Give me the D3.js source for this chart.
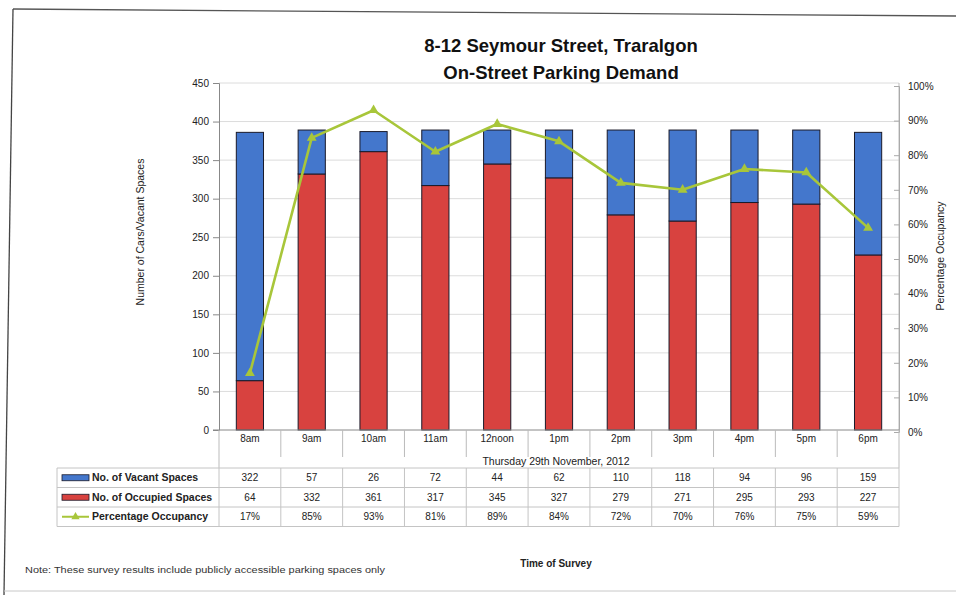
<!DOCTYPE html>
<html>
<head>
<meta charset="utf-8">
<script src="https://cdn.jsdelivr.net/npm/d3@7"></script>
<style>
  html, body { margin: 0; padding: 0; background: #fff; }
  svg { display: block; font-family: "Liberation Sans", Arial, sans-serif; }
</style>
</head>
<body>
<svg id="chart" width="956" height="595"></svg>
<script>
// Survey times and counts
const times = ["8am", "9am", "10am", "11am", "12noon", "1pm", "2pm", "3pm", "4pm", "5pm", "6pm"];
const vacant = [322, 57, 26, 72, 44, 62, 110, 118, 94, 96, 159];
const occupied = [64, 332, 361, 317, 345, 327, 279, 271, 295, 293, 227];
const occupancy = [17, 85, 93, 81, 89, 84, 72, 70, 76, 75, 59];
const countTicks = [0, 50, 100, 150, 200, 250, 300, 350, 400, 450];
const pctTicks = [0, 10, 20, 30, 40, 50, 60, 70, 80, 90, 100];

const seriesNames = ["No. of Vacant Spaces", "No. of Occupied Spaces", "Percentage Occupancy"];
const colors = { vacant: "#4477cc", occupied: "#d8423f", line: "#a8c63a" };

const svg = d3.select("#chart");
const plot = { left: 219, right: 899, top: 83, bottom: 430 };

const x = d3.scaleBand().domain(times).range([plot.left, plot.right]).padding(0);
const y = d3.scaleLinear().domain([0, 450]).range([plot.bottom, plot.top]);
const yPct = d3.scaleLinear().domain([0, 100]).range([432, 86]);

// page frame
svg.append("path").attr("d", "M13,9 L956,16").attr("stroke", "#555").attr("stroke-width", 1.3).attr("fill", "none");
svg.append("path").attr("d", "M13,9 L4,595").attr("stroke", "#444").attr("stroke-width", 1.3).attr("fill", "none");
svg.append("path").attr("d", "M4,591 L956,591").attr("stroke", "#c8c8c8").attr("stroke-width", 1).attr("fill", "none");

// title
const title = svg.append("text").attr("text-anchor", "middle").attr("font-weight", "bold")
  .attr("font-size", 18.5).attr("fill", "#111");
title.append("tspan").attr("x", 561).attr("y", 52).text("8-12 Seymour Street, Traralgon");
title.append("tspan").attr("x", 561).attr("y", 79).text("On-Street Parking Demand");

// gridlines
svg.append("g").selectAll("line").data(countTicks.filter(d => d > 0)).join("line")
  .attr("x1", plot.left).attr("x2", plot.right)
  .attr("y1", d => y(d)).attr("y2", d => y(d))
  .attr("stroke", "#dcdcdc").attr("stroke-width", 1);

// plot border right
svg.append("line").attr("x1", plot.right).attr("x2", plot.right).attr("y1", plot.top).attr("y2", plot.bottom)
  .attr("stroke", "#bdbdbd");

// left axis
const yAxis = svg.append("g").attr("transform", `translate(${plot.left},0)`)
  .call(d3.axisLeft(y).tickValues(countTicks).tickSize(6).tickPadding(4));
yAxis.select(".domain").attr("stroke", "#888");
yAxis.selectAll(".tick line").attr("stroke", "#888");
yAxis.selectAll("text").attr("font-size", 10).attr("fill", "#222").attr("font-family", "Liberation Sans, Arial, sans-serif");

// right axis
const rAxis = svg.append("g").attr("transform", `translate(${plot.right},0)`)
  .call(d3.axisRight(yPct).tickValues(pctTicks).tickFormat(d => d + "%").tickSize(-5).tickPadding(9));
rAxis.select(".domain").attr("stroke", "#aaa");
rAxis.selectAll(".tick line").attr("stroke", "#aaa");
rAxis.selectAll("text").attr("font-size", 10).attr("fill", "#222").attr("font-family", "Liberation Sans, Arial, sans-serif");

// axis titles
svg.append("text").attr("transform", "translate(144,232) rotate(-90)").attr("text-anchor", "middle")
  .attr("font-size", 10.5).attr("fill", "#222").text("Number of Cars/Vacant Spaces");
svg.append("text").attr("transform", "translate(944,256) rotate(-90)").attr("text-anchor", "middle")
  .attr("font-size", 10.5).attr("fill", "#222").text("Percentage Occupancy");

// stacked bars
const barW = x.bandwidth() * 0.44;
const bars = svg.append("g");
bars.selectAll("rect.occ").data(times).join("rect").attr("class", "occ")
  .attr("x", d => x(d) + (x.bandwidth() - barW) / 2)
  .attr("width", barW)
  .attr("y", (d, i) => y(occupied[i]))
  .attr("height", (d, i) => y(0) - y(occupied[i]))
  .attr("fill", colors.occupied).attr("stroke", "#1a1a2a").attr("stroke-width", 1);
bars.selectAll("rect.vac").data(times).join("rect").attr("class", "vac")
  .attr("x", d => x(d) + (x.bandwidth() - barW) / 2)
  .attr("width", barW)
  .attr("y", (d, i) => y(occupied[i] + vacant[i]))
  .attr("height", (d, i) => y(occupied[i]) - y(occupied[i] + vacant[i]))
  .attr("fill", colors.vacant).attr("stroke", "#1a1a2a").attr("stroke-width", 1);

// bottom axis line
svg.append("line").attr("x1", plot.left - 6).attr("x2", plot.right).attr("y1", plot.bottom).attr("y2", plot.bottom)
  .attr("stroke", "#888");

// occupancy line
const cx = d => x(d) + x.bandwidth() / 2;
const line = d3.line().x((d, i) => cx(times[i])).y(d => yPct(d));
svg.append("path").datum(occupancy).attr("d", line)
  .attr("fill", "none").attr("stroke", colors.line).attr("stroke-width", 2.6).attr("stroke-linejoin", "round");
const tri = d3.symbol().type(d3.symbolTriangle).size(42);
svg.append("g").selectAll("path").data(occupancy).join("path")
  .attr("d", tri)
  .attr("transform", (d, i) => `translate(${cx(times[i])},${yPct(d)})`)
  .attr("fill", colors.line);

// category row
const catRow = { top: plot.bottom, bottom: 457 };
svg.append("g").selectAll("line").data(times.slice(1)).join("line")
  .attr("x1", d => x(d)).attr("x2", d => x(d))
  .attr("y1", catRow.top).attr("y2", catRow.bottom)
  .attr("stroke", "#bbb");
svg.append("g").selectAll("text").data(times).join("text")
  .attr("x", d => cx(d)).attr("y", 442).attr("text-anchor", "middle")
  .attr("font-size", 10).attr("fill", "#222").text(d => d);
svg.append("text").attr("x", 556).attr("y", 465).attr("text-anchor", "middle")
  .attr("font-size", 10.5).attr("fill", "#222").text("Thursday 29th November, 2012");

// left border of the category block
svg.append("line").attr("x1", plot.left).attr("x2", plot.left).attr("y1", plot.bottom).attr("y2", 468)
  .attr("stroke", "#bbb");
svg.append("line").attr("x1", plot.right).attr("x2", plot.right).attr("y1", plot.bottom).attr("y2", 468)
  .attr("stroke", "#bbb");

// data table
const table = { left: 57, right: plot.right, top: 468, rowH: 19.5 };
const rows = [vacant.map(String), occupied.map(String), occupancy.map(d => d + "%")];
const tg = svg.append("g");
for (let r = 0; r <= rows.length; r++) {
  tg.append("line").attr("x1", table.left).attr("x2", table.right)
    .attr("y1", table.top + r * table.rowH).attr("y2", table.top + r * table.rowH)
    .attr("stroke", "#c4c4c4");
}
const tableBottom = table.top + rows.length * table.rowH;
[table.left].concat(times.map(d => x(d)), [plot.right]).forEach(xx => {
  tg.append("line").attr("x1", xx).attr("x2", xx).attr("y1", table.top).attr("y2", tableBottom)
    .attr("stroke", "#c4c4c4");
});
rows.forEach((vals, r) => {
  const ty = table.top + r * table.rowH + table.rowH / 2 + 3.6;
  tg.append("g").selectAll("text").data(vals).join("text")
    .attr("x", (d, i) => cx(times[i])).attr("y", ty).attr("text-anchor", "middle")
    .attr("font-size", 10).attr("fill", "#222").text(d => d);
  tg.append("text").attr("x", 92).attr("y", ty).attr("font-size", 10.5).attr("font-weight", "bold")
    .attr("fill", "#222").text(seriesNames[r]);
});
// legend keys
const keyY = r => table.top + r * table.rowH + table.rowH / 2;
tg.append("rect").attr("x", 62).attr("y", keyY(0) - 3).attr("width", 27).attr("height", 6)
  .attr("fill", colors.vacant).attr("stroke", "#1a1a2a").attr("stroke-width", 0.8);
tg.append("rect").attr("x", 62).attr("y", keyY(1) - 3).attr("width", 27).attr("height", 6)
  .attr("fill", colors.occupied).attr("stroke", "#1a1a2a").attr("stroke-width", 0.8);
tg.append("line").attr("x1", 62).attr("x2", 89).attr("y1", keyY(2)).attr("y2", keyY(2))
  .attr("stroke", colors.line).attr("stroke-width", 2);
tg.append("path").attr("d", d3.symbol().type(d3.symbolTriangle).size(30))
  .attr("transform", `translate(75.5,${keyY(2)})`).attr("fill", colors.line);

// footer
svg.append("text").attr("x", 556).attr("y", 567).attr("text-anchor", "middle")
  .attr("font-size", 10).attr("font-weight", "bold").attr("fill", "#222").text("Time of Survey");
svg.append("text").attr("x", 25).attr("y", 573).attr("font-size", 9.2).attr("fill", "#333")
  .attr("textLength", 360).attr("lengthAdjust", "spacingAndGlyphs")
  .text("Note: These survey results include publicly accessible parking spaces only");
</script>
</body>
</html>
